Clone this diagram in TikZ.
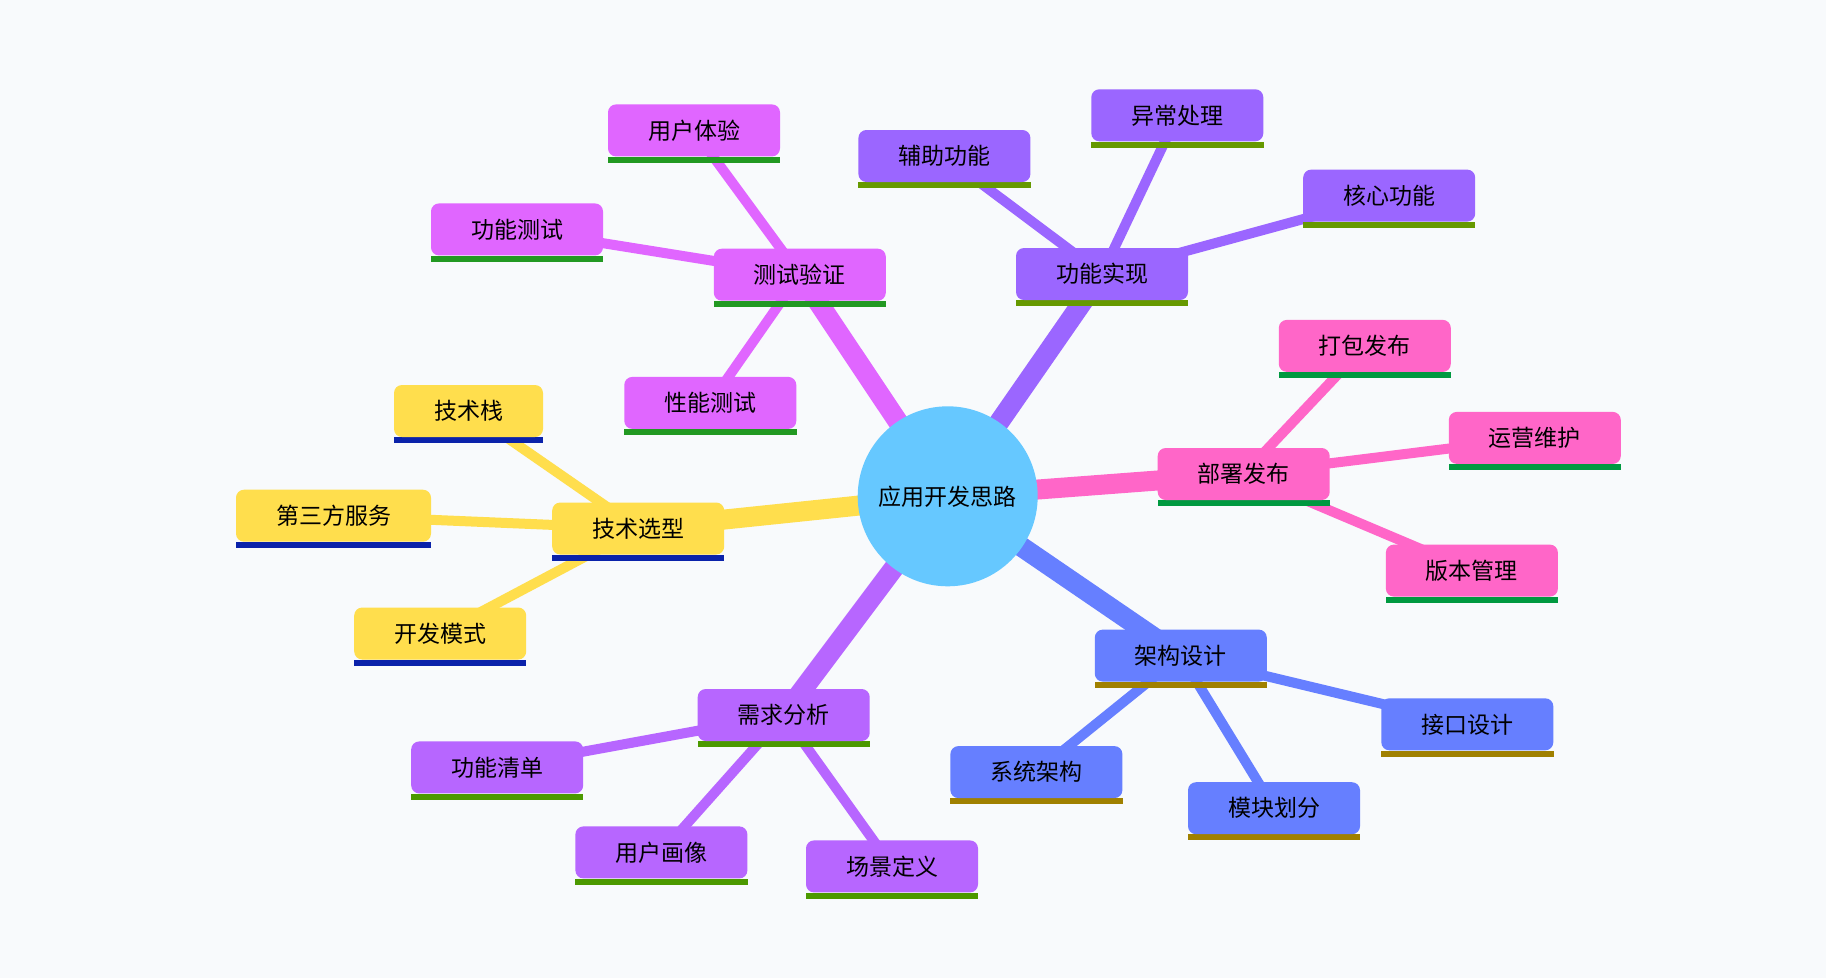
\documentclass[tikz,border=0pt]{standalone}
\usepackage{fontspec}
\newfontfamily\cjk{Noto Sans CJK SC}
\pgfdeclarelayer{bg}
\pgfdeclarelayer{links}
\pgfsetlayers{bg,links,main}

\definecolor{paper}{HTML}{F8FAFC}
\definecolor{rootblue}{HTML}{66C8FF}
\definecolor{techfill}{HTML}{FFDE4D}
\definecolor{techbar}{HTML}{0A22AA}
\definecolor{testfill}{HTML}{E066FF}
\definecolor{testbar}{HTML}{229922}
\definecolor{implfill}{HTML}{9B66FF}
\definecolor{implbar}{HTML}{669900}
\definecolor{deployfill}{HTML}{FF66C8}
\definecolor{deploybar}{HTML}{009940}
\definecolor{archfill}{HTML}{667FFF}
\definecolor{archbar}{HTML}{A08000}
\definecolor{reqfill}{HTML}{B766FF}
\definecolor{reqbar}{HTML}{4C9900}

\begin{document}
\begin{tikzpicture}[x=1pt, y=-1pt,
        root/.style={circle, fill=rootblue, minimum size=180pt, inner sep=0pt, font=\cjk\fontsize{23}{28}\selectfont},
        topic/.style 2 args={rectangle, rounded corners=8pt, fill=#1, minimum height=52pt, inner xsep=40pt, inner ysep=0pt, font=\cjk\fontsize{23}{28}\selectfont,
            append after command={\pgfextra{\fill[#2, sharp corners] (\tikzlastnode.south west) rectangle ([yshift=-6pt]\tikzlastnode.south east);}}},
        trunk/.style={line width=20pt, draw=#1},
        twig/.style={line width=10pt, draw=#1}
    ]
        \useasboundingbox (0,0) rectangle (1826,978);
        \begin{pgfonlayer}{bg}
            \fill[paper] (0,0) rectangle (1826,978);
        \end{pgfonlayer}

        \node[root] (root) at (947.7,496.3) {应用开发思路};

        % 技术选型
        \node[topic={techfill}{techbar}] (tech) at (638.2,528.5) {技术选型};
        \node[topic={techfill}{techbar}] (stack) at (468.5,411) {技术栈};
        \node[topic={techfill}{techbar}] (third) at (333.5,515.7) {第三方服务};
        \node[topic={techfill}{techbar}] (mode) at (440.2,633.5) {开发模式};

        % 测试验证
        \node[topic={testfill}{testbar}] (test) at (799.8,274.7) {测试验证};
        \node[topic={testfill}{testbar}] (ux) at (694,130.4) {用户体验};
        \node[topic={testfill}{testbar}] (functest) at (517,229.4) {功能测试};
        \node[topic={testfill}{testbar}] (perf) at (710.3,402.9) {性能测试};

        % 功能实现
        \node[topic={implfill}{implbar}] (impl) at (1102,274) {功能实现};
        \node[topic={implfill}{implbar}] (aux) at (944.4,156) {辅助功能};
        \node[topic={implfill}{implbar}] (error) at (1177.3,115.3) {异常处理};
        \node[topic={implfill}{implbar}] (core) at (1389.2,195.6) {核心功能};

        % 部署发布
        \node[topic={deployfill}{deploybar}] (deploy) at (1243.7,474) {部署发布};
        \node[topic={deployfill}{deploybar}] (pack) at (1364.8,345.9) {打包发布};
        \node[topic={deployfill}{deploybar}] (ops) at (1534.8,437.9) {运营维护};
        \node[topic={deployfill}{deploybar}] (version) at (1471.9,570.6) {版本管理};

        % 架构设计
        \node[topic={archfill}{archbar}] (arch) at (1180.8,655.6) {架构设计};
        \node[topic={archfill}{archbar}] (api) at (1467.3,724.3) {接口设计};
        \node[topic={archfill}{archbar}] (system) at (1036.4,772.1) {系统架构};
        \node[topic={archfill}{archbar}] (module) at (1274,808.2) {模块划分};

        % 需求分析
        \node[topic={reqfill}{reqbar}] (req) at (783.7,715) {需求分析};
        \node[topic={reqfill}{reqbar}] (list) at (497.2,767.4) {功能清单};
        \node[topic={reqfill}{reqbar}] (persona) at (661.4,852.4) {用户画像};
        \node[topic={reqfill}{reqbar}] (scene) at (892,866.4) {场景定义};

        \begin{pgfonlayer}{links}
            \draw[trunk=techfill] (root.center) -- (tech.center);
            \draw[twig=techfill] (tech.center) -- (stack.center);
            \draw[twig=techfill] (tech.center) -- (third.center);
            \draw[twig=techfill] (tech.center) -- (mode.center);

            \draw[trunk=testfill] (root.center) -- (test.center);
            \draw[twig=testfill] (test.center) -- (ux.center);
            \draw[twig=testfill] (test.center) -- (functest.center);
            \draw[twig=testfill] (test.center) -- (perf.center);

            \draw[trunk=implfill] (root.center) -- (impl.center);
            \draw[twig=implfill] (impl.center) -- (aux.center);
            \draw[twig=implfill] (impl.center) -- (error.center);
            \draw[twig=implfill] (impl.center) -- (core.center);

            \draw[trunk=deployfill] (root.center) -- (deploy.center);
            \draw[twig=deployfill] (deploy.center) -- (pack.center);
            \draw[twig=deployfill] (deploy.center) -- (ops.center);
            \draw[twig=deployfill] (deploy.center) -- (version.center);

            \draw[trunk=archfill] (root.center) -- (arch.center);
            \draw[twig=archfill] (arch.center) -- (api.center);
            \draw[twig=archfill] (arch.center) -- (system.center);
            \draw[twig=archfill] (arch.center) -- (module.center);

            \draw[trunk=reqfill] (root.center) -- (req.center);
            \draw[twig=reqfill] (req.center) -- (list.center);
            \draw[twig=reqfill] (req.center) -- (persona.center);
            \draw[twig=reqfill] (req.center) -- (scene.center);
        \end{pgfonlayer}
    \end{tikzpicture}
\end{document}
